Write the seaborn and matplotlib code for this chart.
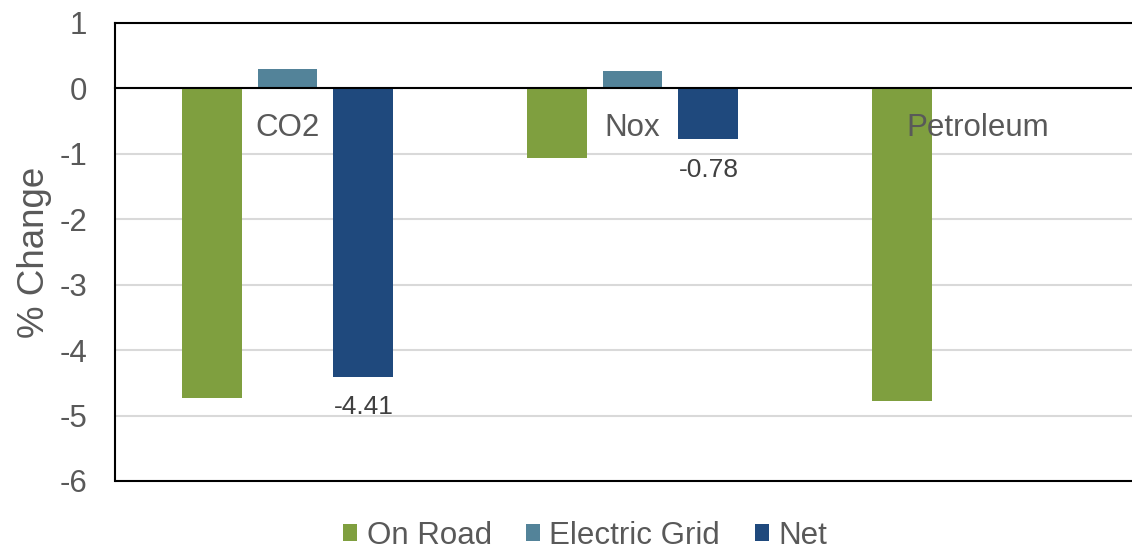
import matplotlib
matplotlib.use("Agg")
import matplotlib.pyplot as plt
from matplotlib.patches import Patch
import seaborn as sns
import pandas as pd

# Values (% change) by pollutant and source
categories = ["CO2", "Nox", "Petroleum"]
series = ["On Road", "Electric Grid", "Net"]
on_road = [-4.73, -1.07, -4.78]
electric_grid = [0.30, 0.27, None]
net = [-4.41, -0.78, None]
colors = ["#7F9F3F", "#538399", "#1F497D"]

rows = []
for name, vals in zip(series, [on_road, electric_grid, net]):
    for cat, v in zip(categories, vals):
        if v is not None:
            rows.append({"Category": cat, "Source": name, "Value": v})
df = pd.DataFrame(rows)

sns.set_theme(style="white")
plt.rcParams["font.family"] = ["Liberation Sans", "DejaVu Sans"]
plt.rcParams["axes.unicode_minus"] = False
text_color = "#595959"
fs = 22.5

fig = plt.figure(figsize=(11.32, 5.51), dpi=100)
W, H = 1132, 551
ax = fig.add_axes([115 / W, 1 - 481 / H, 1035 / W, (481 - 23) / H])

sns.barplot(data=df, x="Category", y="Value", hue="Source",
            order=categories, hue_order=series, palette=colors,
            width=0.66, gap=0.21, errorbar=None, ax=ax, legend=False,
            saturation=1, linewidth=0, zorder=2)

ax.set_xlim(-0.5, 2.5)
ax.set_ylim(-6, 1)
ax.set_yticks(range(-6, 2))
ax.yaxis.grid(True, color="#D9D9D9", linewidth=1.5)
ax.set_axisbelow(True)
# category labels are drawn over the bars
ax.xaxis.set_zorder(5)

# Category axis crosses at zero, labels sit just under it
ax.spines["bottom"].set_position(("data", 0))
ax.spines["bottom"].set_linewidth(1.5)
ax.spines["bottom"].set_color("black")
ax.spines["bottom"].set_zorder(3)
for side in ["left", "top"]:
    ax.spines[side].set_linewidth(1.5)
    ax.spines[side].set_color("black")
ax.spines["right"].set_visible(False)
ax.axhline(-6, color="black", linewidth=1.5, clip_on=False, zorder=3)

ax.tick_params(axis="x", length=0, pad=18, labelsize=fs, labelcolor=text_color)
ax.tick_params(axis="y", length=0, pad=20, labelsize=fs, labelcolor=text_color)
ax.set_xlabel("")
ax.set_ylabel("% Change", fontsize=26.5, color=text_color)
ax.yaxis.set_label_coords(-0.061, 0.5)

# Value labels on the Net bars
net_vals = [v for v in net if v is not None]
ax.bar_label(ax.containers[2], labels=[f"{v:.2f}" for v in net_vals],
             padding=13, fontsize=19, color="#404040")

handles = [Patch(facecolor=c, edgecolor="none") for c in colors]
fig.legend(handles, series, loc="center", bbox_to_anchor=(585 / W, 1 - 536 / H),
           ncol=3, frameon=False, fontsize=fs, labelcolor=text_color,
           handlelength=0.45, handleheight=0.45, handletextpad=0.3,
           columnspacing=1.1, borderpad=0.1)

fig.savefig("out.png", dpi=100)
